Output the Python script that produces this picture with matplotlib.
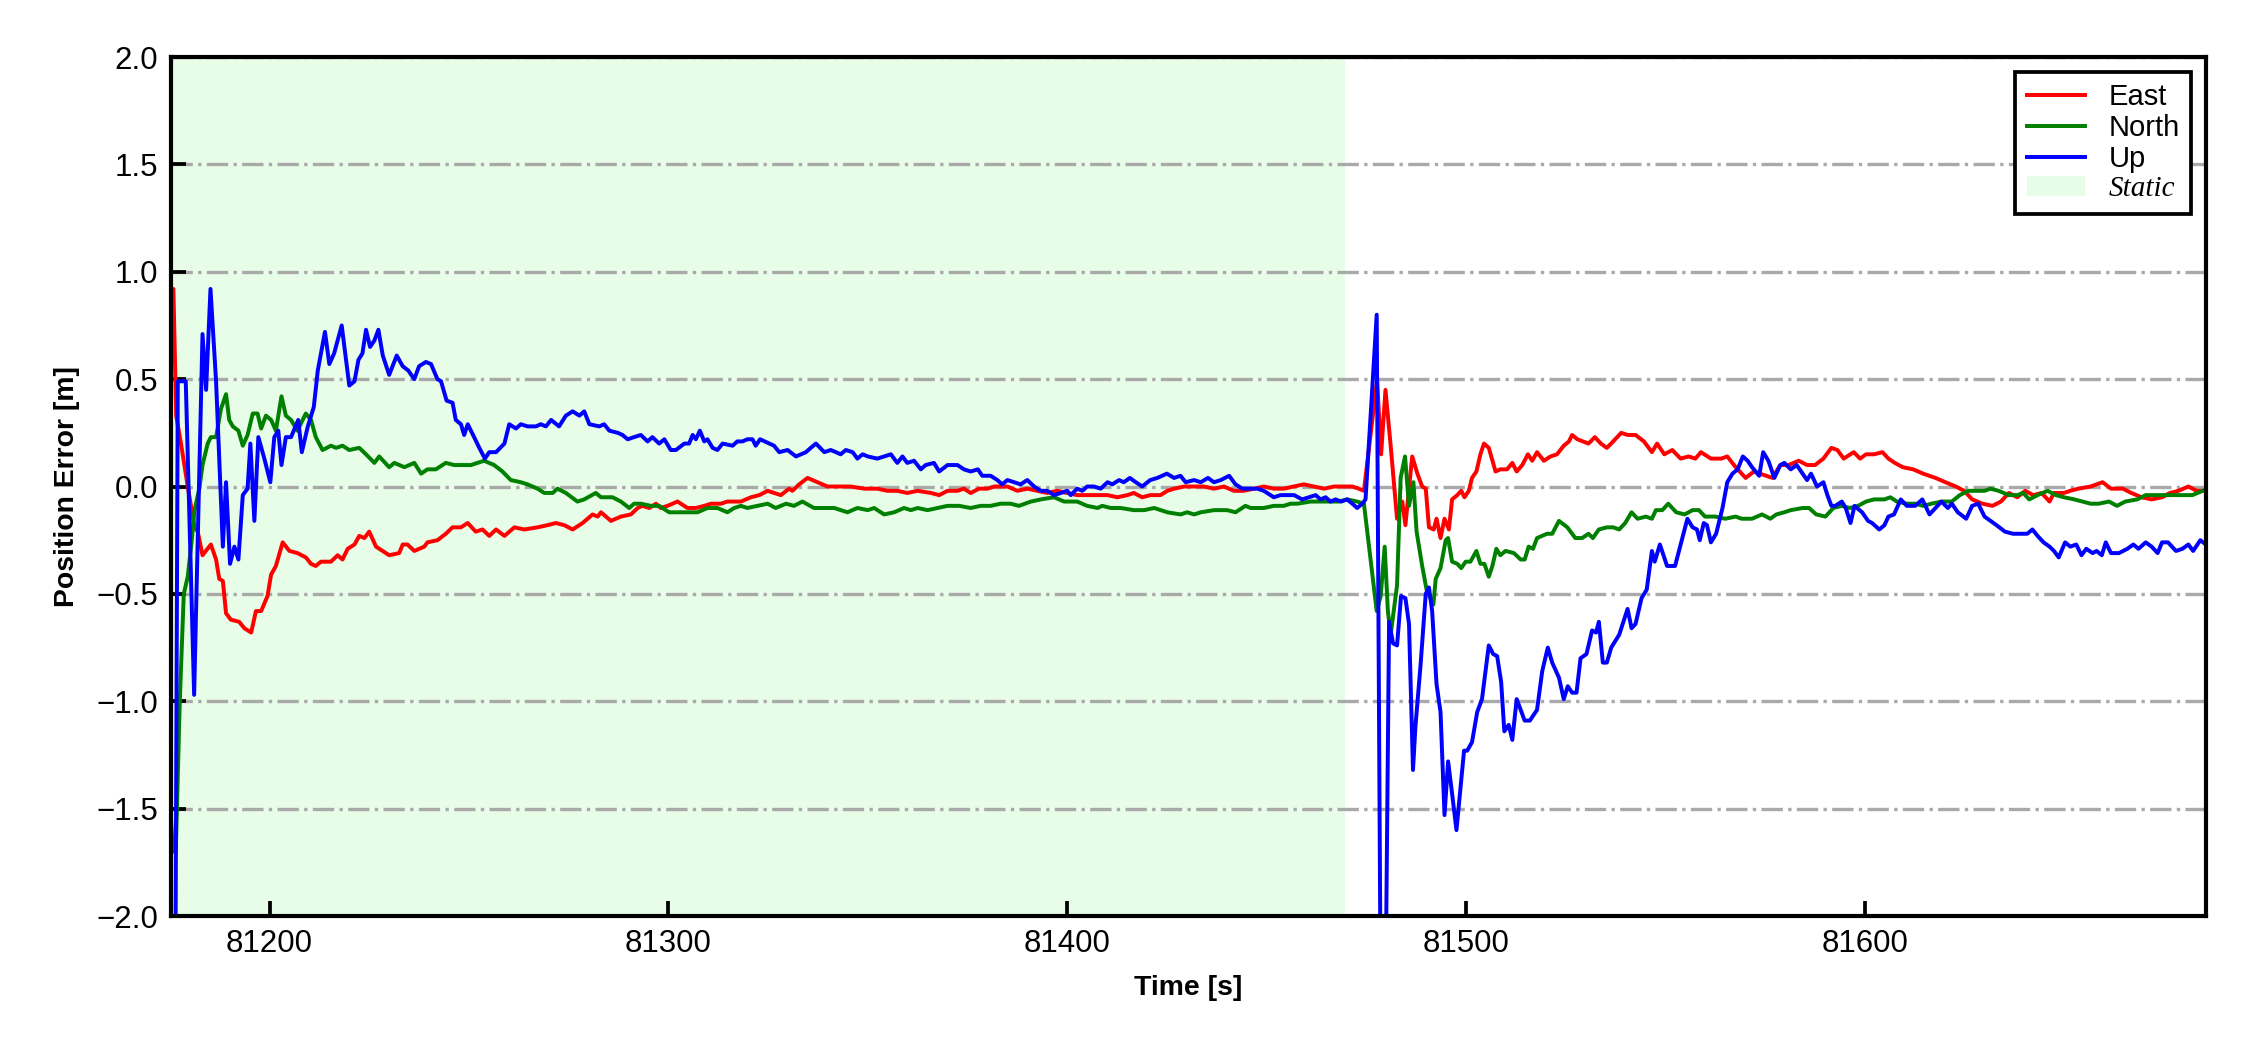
import matplotlib
matplotlib.use("Agg")
import matplotlib.pyplot as plt
import numpy as np

plt.rcParams['font.family'] = ['Liberation Sans', 'DejaVu Sans']

# time [s], error [m]
east = np.array([
    (81175.3, 0.92), (81175.9, 0.92), (81176.6, 0.33), (81177.8, 0.20), (81179.5, 0.00),
    (81181.2, -0.19), (81182.0, -0.21), (81183.2, -0.32), (81185.3, -0.27), (81186.6, -0.34),
    (81187.4, -0.43), (81188.3, -0.44), (81189.1, -0.59), (81190.3, -0.62), (81192.4, -0.63),
    (81193.7, -0.66), (81195.4, -0.68), (81196.6, -0.58), (81197.9, -0.58), (81199.5, -0.51),
    (81200.4, -0.41), (81201.6, -0.37), (81203.3, -0.26), (81205.0, -0.30), (81207.0, -0.31),
    (81209.1, -0.33), (81210.4, -0.36), (81211.6, -0.37), (81212.9, -0.35), (81215.4, -0.35),
    (81217.1, -0.32), (81218.3, -0.34), (81219.6, -0.29), (81221.3, -0.27), (81222.5, -0.23),
    (81223.8, -0.24), (81225.0, -0.21), (81226.7, -0.28), (81230.0, -0.32), (81232.5, -0.31),
    (81233.4, -0.27), (81234.6, -0.27), (81236.3, -0.30), (81238.8, -0.28), (81239.6, -0.26),
    (81242.1, -0.25), (81244.2, -0.22), (81245.9, -0.19), (81248.0, -0.19), (81249.7, -0.17),
    (81251.7, -0.21), (81253.4, -0.20), (81255.1, -0.23), (81256.8, -0.20), (81258.9, -0.23),
    (81261.4, -0.19), (81263.9, -0.20), (81267.2, -0.19), (81269.7, -0.18), (81271.8, -0.17),
    (81273.9, -0.18), (81276.0, -0.20), (81278.5, -0.17), (81281.0, -0.13), (81282.3, -0.14),
    (81283.1, -0.12), (81285.6, -0.16), (81288.1, -0.14), (81290.6, -0.13), (81292.3, -0.10),
    (81293.5, -0.09), (81295.2, -0.10), (81296.9, -0.08), (81298.1, -0.10), (81299.8, -0.09),
    (81302.3, -0.07), (81304.8, -0.10), (81306.9, -0.10), (81309.0, -0.09), (81310.7, -0.08),
    (81313.2, -0.08), (81314.8, -0.07), (81316.1, -0.07), (81318.2, -0.07), (81320.7, -0.05),
    (81322.8, -0.04), (81324.9, -0.02), (81326.5, -0.03), (81328.2, -0.04), (81330.3, -0.01),
    (81331.1, -0.02), (81332.8, 0.01), (81334.9, 0.04), (81337.4, 0.02), (81339.9, 0.00),
    (81342.4, 0.00), (81345.7, 0.00), (81349.1, -0.01), (81352.4, -0.01), (81354.9, -0.02),
    (81357.4, -0.02), (81359.9, -0.03), (81362.5, -0.02), (81365.8, -0.03), (81367.9, -0.04),
    (81370.0, -0.02), (81372.5, -0.02), (81374.1, -0.01), (81375.8, -0.03), (81377.9, -0.01),
    (81380.0, -0.01), (81381.7, 0.00), (81385.0, 0.00), (81387.5, -0.02), (81390.0, -0.01),
    (81392.5, -0.02), (81395.0, -0.03), (81397.5, -0.02), (81400.0, -0.03), (81402.5, -0.04),
    (81405.1, -0.04), (81407.6, -0.04), (81410.1, -0.04), (81412.6, -0.05), (81415.1, -0.04),
    (81416.7, -0.03), (81418.8, -0.05), (81420.9, -0.04), (81423.4, -0.04), (81425.1, -0.02),
    (81426.8, -0.01), (81429.3, 0.00), (81431.8, 0.00), (81434.3, 0.00), (81436.8, -0.01),
    (81439.3, 0.00), (81441.8, -0.02), (81444.3, -0.02), (81446.8, -0.01), (81449.3, 0.00),
    (81451.8, -0.01), (81454.3, -0.01), (81456.8, 0.00), (81459.3, 0.01), (81461.9, 0.00),
    (81464.4, -0.01), (81466.9, 0.00), (81469.4, 0.00), (81471.5, 0.00), (81473.1, -0.01),
    (81474.4, -0.02), (81477.7, 0.50), (81478.7, 0.15), (81479.8, 0.45), (81481.1, 0.19),
    (81482.7, -0.15), (81484.0, -0.07), (81484.8, -0.18), (81486.5, 0.14), (81487.8, 0.06),
    (81489.0, 0.00), (81489.9, -0.01), (81490.7, -0.19), (81491.9, -0.20), (81492.6, -0.15),
    (81493.6, -0.24), (81494.6, -0.15), (81495.7, -0.20), (81496.5, -0.06), (81497.8, -0.04),
    (81498.8, -0.02), (81499.6, -0.05), (81500.7, -0.02), (81501.5, 0.04), (81502.6, 0.07),
    (81503.6, 0.15), (81504.5, 0.20), (81505.7, 0.18), (81507.4, 0.07), (81508.6, 0.08),
    (81510.3, 0.08), (81511.6, 0.11), (81512.7, 0.07), (81514.1, 0.10), (81515.5, 0.15),
    (81516.6, 0.12), (81517.8, 0.16), (81519.5, 0.12), (81521.2, 0.14), (81522.8, 0.15),
    (81524.5, 0.19), (81525.8, 0.21), (81526.6, 0.24), (81527.9, 0.22), (81530.7, 0.20),
    (81532.3, 0.23), (81533.8, 0.20), (81535.3, 0.18), (81536.9, 0.21), (81538.9, 0.25),
    (81540.5, 0.24), (81542.5, 0.24), (81544.6, 0.21), (81546.6, 0.16), (81547.9, 0.20),
    (81549.7, 0.15), (81551.7, 0.17), (81553.8, 0.13), (81555.8, 0.14), (81557.5, 0.13),
    (81558.9, 0.16), (81561.4, 0.13), (81564.0, 0.13), (81565.5, 0.14), (81567.6, 0.09),
    (81570.1, 0.04), (81572.2, 0.07), (81573.7, 0.06), (81576.8, 0.04), (81578.8, 0.10),
    (81580.9, 0.10), (81583.4, 0.12), (81585.5, 0.10), (81587.5, 0.10), (81589.6, 0.13),
    (81591.6, 0.18), (81593.1, 0.17), (81594.7, 0.13), (81597.2, 0.16), (81598.8, 0.13),
    (81600.3, 0.15), (81602.3, 0.15), (81604.4, 0.16), (81605.9, 0.13), (81607.5, 0.11),
    (81609.5, 0.09), (81612.1, 0.08), (81614.6, 0.06), (81617.7, 0.04), (81620.2, 0.02),
    (81622.8, 0.00), (81624.9, -0.02), (81626.9, -0.06), (81629.5, -0.08), (81632.0, -0.09),
    (81634.1, -0.07), (81636.1, -0.03), (81638.2, -0.05), (81640.2, -0.02), (81642.2, -0.04),
    (81644.3, -0.03), (81646.3, -0.07), (81647.4, -0.03), (81649.9, -0.03), (81651.5, -0.02),
    (81653.5, -0.01), (81656.6, 0.00), (81659.6, 0.02), (81661.7, -0.01), (81664.7, -0.01),
    (81666.8, -0.03), (81669.4, -0.05), (81671.9, -0.06), (81674.5, -0.05), (81676.5, -0.03),
    (81678.6, -0.02), (81681.1, 0.00), (81683.2, -0.02), (81685.2, -0.02),
])

north = np.array([
    (81175.3, -1.55), (81175.8, -1.70), (81176.5, -1.70), (81177.5, -1.00), (81178.5, -0.50),
    (81179.5, -0.42), (81180.5, -0.25), (81181.2, -0.11), (81182.4, -0.01), (81183.2, 0.10),
    (81184.5, 0.20), (81185.3, 0.23), (81186.6, 0.23), (81187.8, 0.36), (81189.1, 0.43),
    (81189.9, 0.31), (81190.8, 0.28), (81192.2, 0.26), (81193.3, 0.19), (81194.5, 0.24),
    (81195.8, 0.34), (81197.0, 0.34), (81197.9, 0.27), (81199.1, 0.33), (81200.4, 0.31),
    (81201.6, 0.26), (81203.0, 0.42), (81204.1, 0.33), (81205.4, 0.31), (81207.0, 0.26),
    (81208.3, 0.31), (81209.1, 0.34), (81210.4, 0.31), (81211.6, 0.23), (81213.3, 0.17),
    (81215.4, 0.19), (81216.7, 0.18), (81218.3, 0.19), (81220.0, 0.17), (81222.5, 0.18),
    (81224.2, 0.15), (81226.3, 0.11), (81227.5, 0.14), (81230.0, 0.09), (81231.3, 0.11),
    (81233.8, 0.09), (81236.3, 0.11), (81238.0, 0.06), (81239.6, 0.08), (81241.7, 0.08),
    (81244.2, 0.11), (81246.3, 0.10), (81248.4, 0.10), (81250.5, 0.10), (81253.8, 0.12),
    (81256.3, 0.10), (81258.4, 0.07), (81260.5, 0.03), (81263.0, 0.02), (81264.7, 0.01),
    (81267.2, -0.01), (81268.9, -0.03), (81271.0, -0.03), (81272.2, -0.01), (81274.3, -0.03),
    (81277.2, -0.07), (81278.9, -0.06), (81281.8, -0.03), (81283.1, -0.05), (81286.0, -0.05),
    (81288.1, -0.07), (81290.2, -0.10), (81291.4, -0.08), (81293.1, -0.08), (81295.6, -0.09),
    (81297.7, -0.09), (81300.2, -0.12), (81302.3, -0.12), (81305.2, -0.12), (81307.3, -0.12),
    (81309.8, -0.10), (81312.3, -0.10), (81314.8, -0.12), (81316.5, -0.10), (81318.2, -0.09),
    (81319.8, -0.10), (81322.4, -0.09), (81324.9, -0.08), (81326.9, -0.10), (81329.5, -0.08),
    (81331.5, -0.09), (81333.6, -0.07), (81336.5, -0.10), (81339.1, -0.10), (81341.6, -0.10),
    (81344.9, -0.12), (81347.4, -0.10), (81350.0, -0.11), (81351.6, -0.10), (81354.1, -0.13),
    (81356.6, -0.12), (81359.1, -0.10), (81360.8, -0.11), (81362.5, -0.10), (81365.0, -0.11),
    (81367.5, -0.10), (81370.0, -0.09), (81372.9, -0.09), (81375.8, -0.10), (81378.3, -0.09),
    (81380.8, -0.09), (81383.3, -0.08), (81385.8, -0.08), (81387.9, -0.09), (81390.9, -0.07),
    (81393.4, -0.06), (81396.7, -0.05), (81399.2, -0.07), (81402.5, -0.07), (81405.0, -0.09),
    (81407.6, -0.10), (81408.8, -0.09), (81410.9, -0.10), (81413.4, -0.10), (81416.7, -0.11),
    (81419.3, -0.11), (81421.8, -0.10), (81425.1, -0.12), (81428.4, -0.13), (81430.1, -0.12),
    (81431.8, -0.13), (81433.5, -0.12), (81436.8, -0.11), (81440.1, -0.11), (81442.2, -0.12),
    (81444.7, -0.09), (81446.0, -0.10), (81449.3, -0.10), (81451.8, -0.09), (81454.3, -0.09),
    (81456.0, -0.08), (81457.7, -0.08), (81461.0, -0.07), (81463.5, -0.07), (81466.0, -0.07),
    (81468.1, -0.07), (81470.2, -0.06), (81472.7, -0.07), (81474.4, -0.08), (81477.6, -0.58),
    (81478.6, -0.51), (81479.6, -0.28), (81480.4, -0.58), (81481.1, -0.69), (81482.7, -0.46),
    (81483.6, 0.04), (81484.7, 0.14), (81485.7, -0.09), (81486.8, 0.02), (81487.6, -0.21),
    (81489.0, -0.37), (81490.1, -0.48), (81491.8, -0.55), (81492.4, -0.43), (81493.6, -0.38),
    (81494.9, -0.25), (81495.5, -0.24), (81496.5, -0.35), (81497.8, -0.36), (81498.8, -0.38),
    (81499.9, -0.35), (81501.1, -0.35), (81502.6, -0.30), (81503.6, -0.36), (81504.6, -0.36),
    (81505.7, -0.42), (81506.6, -0.37), (81507.6, -0.29), (81508.6, -0.32), (81509.9, -0.30),
    (81512.0, -0.31), (81513.7, -0.34), (81514.7, -0.34), (81515.7, -0.28), (81516.8, -0.29),
    (81517.8, -0.24), (81520.3, -0.22), (81521.6, -0.22), (81523.3, -0.16), (81525.4, -0.19),
    (81527.4, -0.24), (81529.1, -0.24), (81530.7, -0.22), (81531.8, -0.24), (81533.3, -0.20),
    (81535.3, -0.19), (81536.9, -0.19), (81538.4, -0.20), (81539.9, -0.17), (81541.5, -0.12),
    (81543.0, -0.15), (81545.1, -0.14), (81546.6, -0.15), (81547.6, -0.11), (81549.2, -0.11),
    (81550.7, -0.08), (81552.7, -0.12), (81554.8, -0.13), (81556.8, -0.11), (81558.4, -0.11),
    (81559.9, -0.14), (81562.5, -0.14), (81565.0, -0.15), (81567.6, -0.14), (81569.1, -0.15),
    (81571.7, -0.15), (81574.2, -0.13), (81576.3, -0.15), (81577.8, -0.13), (81579.8, -0.12),
    (81581.4, -0.11), (81584.4, -0.10), (81586.0, -0.10), (81587.8, -0.13), (81590.1, -0.14),
    (81592.1, -0.10), (81594.2, -0.09), (81596.2, -0.10), (81598.3, -0.09), (81600.3, -0.07),
    (81602.3, -0.06), (81604.9, -0.06), (81606.4, -0.05), (81608.0, -0.07), (81610.5, -0.08),
    (81612.6, -0.08), (81614.6, -0.09), (81616.7, -0.08), (81619.2, -0.07), (81621.8, -0.07),
    (81623.8, -0.04), (81625.9, -0.02), (81628.4, -0.02), (81630.0, -0.02), (81631.5, -0.01),
    (81633.5, -0.02), (81636.1, -0.04), (81638.2, -0.04), (81639.7, -0.03), (81641.2, -0.06),
    (81643.3, -0.04), (81645.8, -0.02), (81647.9, -0.04), (81649.9, -0.05), (81652.5, -0.06),
    (81654.5, -0.07), (81656.6, -0.08), (81658.6, -0.08), (81661.2, -0.07), (81663.2, -0.09),
    (81665.3, -0.07), (81668.3, -0.06), (81670.4, -0.04), (81672.9, -0.04), (81675.0, -0.04),
    (81677.5, -0.04), (81680.1, -0.04), (81682.1, -0.04), (81684.7, -0.02),
])

up = np.array([
    (81176.4, -2.30), (81177.0, 0.49), (81179.0, 0.49), (81181.1, -0.97), (81183.2, 0.71),
    (81184.1, 0.45), (81185.2, 0.92), (81186.6, 0.49), (81188.3, -0.28), (81189.1, 0.02),
    (81190.1, -0.36), (81191.2, -0.28), (81192.2, -0.34), (81193.3, -0.04), (81194.5, -0.01),
    (81195.2, 0.20), (81196.2, -0.16), (81197.2, 0.23), (81198.7, 0.13), (81200.2, 0.02),
    (81201.2, 0.23), (81202.2, 0.26), (81203.0, 0.10), (81204.1, 0.23), (81205.4, 0.23),
    (81207.2, 0.31), (81208.1, 0.16), (81209.6, 0.28), (81211.1, 0.37), (81212.1, 0.54),
    (81213.9, 0.72), (81215.0, 0.57), (81216.2, 0.62), (81218.1, 0.75), (81220.0, 0.47),
    (81221.3, 0.49), (81222.3, 0.59), (81223.3, 0.62), (81224.2, 0.73), (81225.2, 0.65),
    (81226.3, 0.68), (81227.3, 0.73), (81228.4, 0.61), (81230.0, 0.52), (81231.9, 0.61),
    (81233.4, 0.56), (81234.8, 0.54), (81236.3, 0.50), (81237.5, 0.56), (81239.2, 0.58),
    (81240.5, 0.57), (81242.1, 0.50), (81243.0, 0.49), (81244.4, 0.40), (81245.9, 0.39),
    (81246.7, 0.31), (81248.0, 0.29), (81248.8, 0.24), (81249.7, 0.29), (81251.3, 0.23),
    (81252.6, 0.18), (81254.0, 0.13), (81255.1, 0.16), (81256.8, 0.16), (81258.9, 0.20),
    (81260.1, 0.29), (81261.8, 0.27), (81263.0, 0.29), (81264.7, 0.28), (81266.8, 0.28),
    (81268.0, 0.29), (81269.3, 0.28), (81270.6, 0.31), (81272.6, 0.28), (81274.3, 0.33),
    (81276.0, 0.35), (81277.7, 0.33), (81278.9, 0.35), (81280.2, 0.29), (81282.7, 0.28),
    (81283.9, 0.29), (81285.2, 0.26), (81287.3, 0.25), (81288.5, 0.24), (81289.8, 0.22),
    (81291.4, 0.23), (81293.1, 0.24), (81294.8, 0.21), (81296.0, 0.23), (81297.7, 0.20),
    (81299.0, 0.22), (81300.6, 0.17), (81301.9, 0.17), (81304.0, 0.20), (81305.2, 0.20),
    (81306.1, 0.24), (81306.9, 0.22), (81307.9, 0.26), (81309.0, 0.21), (81309.8, 0.22),
    (81311.1, 0.18), (81312.3, 0.17), (81313.6, 0.20), (81316.1, 0.19), (81317.3, 0.21),
    (81318.6, 0.21), (81319.8, 0.22), (81321.1, 0.22), (81321.9, 0.19), (81323.0, 0.22),
    (81325.3, 0.20), (81326.5, 0.19), (81327.8, 0.16), (81329.9, 0.17), (81332.0, 0.14),
    (81334.5, 0.16), (81335.7, 0.18), (81337.0, 0.20), (81339.1, 0.16), (81340.7, 0.17),
    (81342.0, 0.16), (81343.2, 0.15), (81344.5, 0.17), (81346.2, 0.16), (81347.4, 0.13),
    (81348.7, 0.15), (81350.0, 0.14), (81352.4, 0.13), (81354.1, 0.14), (81355.8, 0.15),
    (81357.4, 0.11), (81358.7, 0.14), (81359.9, 0.11), (81361.6, 0.12), (81363.3, 0.08),
    (81364.5, 0.10), (81366.6, 0.11), (81367.9, 0.07), (81370.0, 0.10), (81372.5, 0.10),
    (81374.1, 0.08), (81375.8, 0.07), (81377.6, 0.08), (81378.7, 0.05), (81380.8, 0.05),
    (81382.5, 0.03), (81383.7, 0.01), (81385.0, 0.03), (81386.7, 0.02), (81388.3, 0.01),
    (81390.0, 0.03), (81391.7, 0.00), (81393.4, -0.02), (81395.0, -0.02), (81396.7, -0.04),
    (81398.4, -0.03), (81400.0, -0.02), (81400.9, -0.04), (81402.5, -0.01), (81403.8, -0.02),
    (81405.0, 0.00), (81406.7, 0.00), (81408.4, -0.01), (81410.1, 0.02), (81411.3, 0.01),
    (81413.0, 0.03), (81414.2, 0.02), (81415.7, 0.04), (81417.2, 0.02), (81418.8, 0.00),
    (81420.8, 0.03), (81422.6, 0.04), (81425.0, 0.06), (81426.8, 0.04), (81428.4, 0.05),
    (81429.7, 0.02), (81431.8, 0.03), (81433.5, 0.02), (81435.3, 0.04), (81436.8, 0.02),
    (81438.5, 0.03), (81440.6, 0.05), (81442.2, 0.01), (81443.9, -0.01), (81446.0, -0.01),
    (81447.7, -0.01), (81449.3, -0.02), (81451.8, -0.05), (81453.5, -0.04), (81455.2, -0.04),
    (81456.9, -0.04), (81458.9, -0.06), (81460.6, -0.05), (81462.3, -0.04), (81463.5, -0.06),
    (81464.8, -0.05), (81466.0, -0.07), (81467.3, -0.06), (81468.7, -0.07), (81470.2, -0.06),
    (81471.5, -0.08), (81472.7, -0.10), (81474.0, -0.08), (81474.8, -0.06), (81477.6, 0.80),
    (81478.6, -2.40), (81479.8, -2.40), (81480.7, -0.63), (81481.7, -0.73), (81482.7, -0.74),
    (81483.7, -0.51), (81484.8, -0.52), (81485.7, -0.64), (81486.7, -1.32), (81487.3, -1.12),
    (81488.6, -0.83), (81489.9, -0.50), (81490.7, -0.47), (81491.5, -0.58), (81492.6, -0.92),
    (81493.6, -1.05), (81494.6, -1.53), (81495.5, -1.28), (81496.5, -1.43), (81497.6, -1.60),
    (81499.5, -1.23), (81500.3, -1.23), (81501.5, -1.19), (81502.8, -1.05), (81504.0, -0.99),
    (81505.7, -0.74), (81506.8, -0.78), (81507.8, -0.79), (81508.8, -0.91), (81509.6, -1.14),
    (81510.7, -1.11), (81511.6, -1.18), (81512.7, -0.99), (81513.7, -1.04), (81514.7, -1.09),
    (81516.0, -1.09), (81517.8, -1.04), (81519.1, -0.86), (81520.5, -0.75), (81521.6, -0.82),
    (81523.3, -0.89), (81524.5, -0.99), (81525.5, -0.93), (81526.6, -0.96), (81527.7, -0.96),
    (81528.7, -0.80), (81530.2, -0.78), (81531.6, -0.67), (81532.6, -0.68), (81533.3, -0.63),
    (81534.3, -0.82), (81535.3, -0.82), (81536.4, -0.75), (81538.4, -0.69), (81540.5, -0.57),
    (81541.5, -0.66), (81542.5, -0.64), (81544.0, -0.52), (81545.3, -0.48), (81546.6, -0.30),
    (81547.3, -0.35), (81548.6, -0.27), (81550.4, -0.37), (81552.4, -0.37), (81553.8, -0.27),
    (81555.5, -0.15), (81556.8, -0.19), (81557.9, -0.20), (81558.6, -0.25), (81559.6, -0.17),
    (81560.4, -0.18), (81561.4, -0.26), (81562.7, -0.22), (81564.3, -0.10), (81565.5, 0.02),
    (81566.8, 0.06), (81568.1, 0.08), (81569.4, 0.14), (81570.6, 0.12), (81571.7, 0.09),
    (81573.5, 0.05), (81574.5, 0.16), (81575.8, 0.12), (81577.3, 0.04), (81578.8, 0.10),
    (81579.8, 0.11), (81581.4, 0.08), (81582.9, 0.10), (81584.4, 0.06), (81585.5, 0.03),
    (81586.5, 0.06), (81588.0, 0.00), (81589.6, 0.02), (81590.6, -0.04), (81591.6, -0.09),
    (81592.6, -0.09), (81594.2, -0.07), (81595.2, -0.10), (81596.4, -0.17), (81597.4, -0.09),
    (81599.3, -0.12), (81600.8, -0.16), (81601.8, -0.17), (81603.6, -0.20), (81604.9, -0.18),
    (81605.9, -0.14), (81607.3, -0.13), (81609.0, -0.06), (81610.5, -0.09), (81612.6, -0.09),
    (81614.4, -0.06), (81616.2, -0.13), (81617.7, -0.10), (81619.2, -0.07), (81620.8, -0.10),
    (81621.8, -0.08), (81623.3, -0.12), (81625.4, -0.15), (81626.9, -0.09), (81628.4, -0.08),
    (81630.0, -0.14), (81631.5, -0.16), (81633.0, -0.18), (81635.1, -0.21), (81637.1, -0.22),
    (81639.2, -0.22), (81640.7, -0.22), (81642.0, -0.20), (81643.3, -0.23), (81644.8, -0.26),
    (81646.3, -0.28), (81647.4, -0.30), (81648.6, -0.33), (81650.2, -0.26), (81651.5, -0.28),
    (81653.0, -0.27), (81654.3, -0.32), (81655.5, -0.29), (81657.1, -0.31), (81658.1, -0.30),
    (81659.4, -0.32), (81660.4, -0.26), (81661.7, -0.31), (81663.7, -0.31), (81665.8, -0.29),
    (81667.3, -0.27), (81668.6, -0.29), (81670.4, -0.26), (81671.9, -0.28), (81673.4, -0.31),
    (81674.5, -0.26), (81676.0, -0.26), (81678.0, -0.30), (81679.6, -0.29), (81681.1, -0.27),
    (81682.3, -0.30), (81684.1, -0.25), (81685.5, -0.27),
])

static_span = (81175.3, 81469.7)
labels = ['East', 'North', 'Up']
colors = ['red', 'green', 'blue']

fig = plt.figure(figsize=(7.5, 3.5), dpi=300)
ax = fig.add_axes([0.076, 0.1276, 0.9044, 0.8181])

ax.axvspan(*static_span, color='#e8fde8', lw=0, label='Static', zorder=0)
for data, lab, c in zip([east, north, up], labels, colors):
    ax.plot(data[:, 0], data[:, 1], color=c, lw=0.95, label=lab)

ax.set_xlim(81175.3, 81685.5)
ax.set_ylim(-2, 2)
ax.set_yticks(np.arange(-2, 2.01, 0.5))
ax.set_xticks([81200, 81300, 81400, 81500, 81600])
ax.yaxis.grid(True, linestyle='-.', color='darkgray', lw=0.8)
ax.set_axisbelow(True)
ax.tick_params(direction='in', length=3.5, width=0.9, labelsize=7.5, pad=3)
for s in ax.spines.values():
    s.set_linewidth(1.0)

ax.set_xlabel('Time [s]', fontsize=6.8, fontweight='bold')
ax.set_ylabel('Position Error [m]', fontsize=6.8, fontweight='bold')

handles, labs = ax.get_legend_handles_labels()
order = [1, 2, 3, 0]
leg = ax.legend([handles[i] for i in order], [labs[i] for i in order],
                loc='upper right', fontsize=7, fancybox=False, framealpha=1,
                edgecolor='black', borderpad=0.4, labelspacing=0.1,
                handlelength=2.0)
leg.get_frame().set_linewidth(0.9)
leg.get_texts()[3].set_fontfamily('Liberation Serif')
leg.get_texts()[3].set_fontstyle('italic')

fig.savefig('out.png', dpi=300)
